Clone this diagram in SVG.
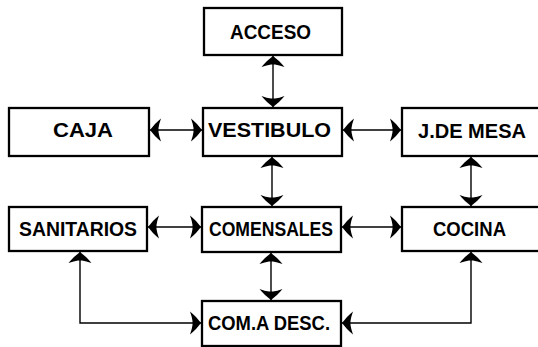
<svg xmlns="http://www.w3.org/2000/svg" width="538" height="347" viewBox="0 0 538 347">
<style>
.box{fill:#fff;stroke:#000;stroke-width:2.3}
.t{font-family:"Liberation Sans",Arial,sans-serif;font-weight:bold;font-size:20px;fill:#000}
.c{fill:none;stroke:#000;stroke-width:1.4;marker-start:url(#ah);marker-end:url(#ah)}
</style>
<defs>
<marker id="ah" viewBox="-14 -14 28 28" markerWidth="28" markerHeight="28" refX="0" refY="0" orient="auto-start-reverse" markerUnits="userSpaceOnUse">
<path d="M0,0 L-5,-6 Q-8,-9 -11,-11.5 Q-9,-6 -8.5,-2 L-8.5,2 Q-9,6 -11,11.5 Q-8,9 -5,6 Z" fill="#000"/>
</marker>
</defs>
<rect width="538" height="347" fill="#fff"/>
<g id="connectors">
<path class="c" d="M273,56 V107"/>
<path class="c" d="M150,130 H202"/>
<path class="c" d="M343,130 H401"/>
<path class="c" d="M272,157 V206"/>
<path class="c" d="M471,157 V206"/>
<path class="c" d="M148,227 H201"/>
<path class="c" d="M342,227 H401"/>
<path class="c" d="M271,253 V300"/>
<path class="c" d="M80,252 V323 H201"/>
<path class="c" d="M471,252 V323 H342"/>
</g>
<g id="acceso"><rect class="box" x="204" y="8" width="138" height="47"/><text class="t" x="230" y="39" textLength="81" lengthAdjust="spacingAndGlyphs">ACCESO</text></g>
<g id="caja"><rect class="box" x="9" y="108" width="140" height="48"/><text class="t" x="53" y="137" textLength="60" lengthAdjust="spacingAndGlyphs">CAJA</text></g>
<g id="vestibulo"><rect class="box" x="203" y="108" width="139" height="48"/><text class="t" x="208" y="137" textLength="123" lengthAdjust="spacingAndGlyphs">VESTIBULO</text></g>
<g id="jdemesa"><rect class="box" x="402" y="108" width="145" height="48"/><text class="t" x="418" y="138" textLength="108" lengthAdjust="spacingAndGlyphs">J.DE MESA</text></g>
<g id="sanitarios"><rect class="box" x="9" y="207" width="138" height="44"/><text class="t" x="19" y="236" textLength="118" lengthAdjust="spacingAndGlyphs">SANITARIOS</text></g>
<g id="comensales"><rect class="box" x="202" y="207" width="139" height="45"/><text class="t" x="209" y="236" textLength="124" lengthAdjust="spacingAndGlyphs">COMENSALES</text></g>
<g id="cocina"><rect class="box" x="402" y="207" width="145" height="44"/><text class="t" x="433" y="236" textLength="73" lengthAdjust="spacingAndGlyphs">COCINA</text></g>
<g id="comadesc"><rect class="box" x="202" y="301" width="139" height="45"/><text class="t" x="208" y="330" textLength="122" lengthAdjust="spacingAndGlyphs">COM.A DESC.</text></g>
</svg>
